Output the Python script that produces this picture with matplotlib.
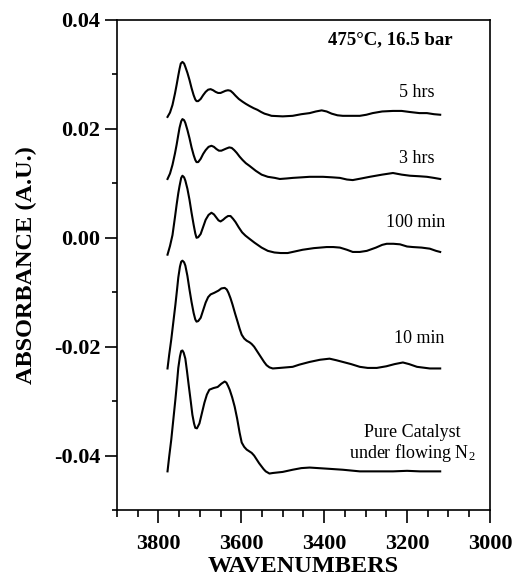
import matplotlib
matplotlib.use('Agg')
from matplotlib import pyplot as plt
from matplotlib.ticker import MultipleLocator

plt.rcParams['font.family'] = ['Liberation Serif', 'DejaVu Serif']
plt.rcParams['mathtext.fontset'] = 'stix'

# 波数 / 吸光度
wn_5h = [3778, 3772, 3766, 3760, 3756, 3752, 3749, 3746, 3742, 3738, 3735, 3730, 3725, 3720, 3715,
         3711, 3708, 3704, 3698, 3692, 3686, 3680, 3674, 3668, 3662, 3656, 3650, 3644, 3638, 3632,
         3626, 3620, 3614, 3606, 3597, 3589, 3580, 3570, 3561, 3552, 3544, 3535, 3527, 3500, 3476,
         3455, 3435, 3420, 3406, 3394, 3382, 3368, 3355, 3335, 3314, 3298, 3283, 3260, 3234, 3213,
         3193, 3170, 3152, 3135, 3120]
ab_5h = [0.0222, 0.0230, 0.0244, 0.0265, 0.0281, 0.0298, 0.0310, 0.0320, 0.0323, 0.0320, 0.0314,
         0.0303, 0.0290, 0.0275, 0.0262, 0.0254, 0.0251, 0.0251, 0.0255, 0.0262, 0.0268, 0.0272,
         0.0273, 0.0271, 0.0268, 0.0266, 0.0266, 0.0268, 0.0270, 0.0271, 0.0270, 0.0266, 0.0261,
         0.0255, 0.0250, 0.0246, 0.0242, 0.0238, 0.0235, 0.0231, 0.0228, 0.0226, 0.0224, 0.0223,
         0.0224, 0.0227, 0.0229, 0.0232, 0.0234, 0.0232, 0.0228, 0.0225, 0.0224, 0.0224, 0.0224,
         0.0226, 0.0229, 0.0232, 0.0233, 0.0233, 0.0231, 0.0229, 0.0229, 0.0227, 0.0226]

wn_3h = [3778, 3772, 3766, 3760, 3756, 3752, 3749, 3745, 3742, 3738, 3735, 3730, 3725, 3720, 3715,
         3711, 3708, 3704, 3698, 3692, 3686, 3679, 3672, 3666, 3660, 3654, 3648, 3642, 3636, 3629,
         3623, 3617, 3611, 3604, 3597, 3589, 3580, 3565, 3551, 3536, 3519, 3507, 3490, 3476, 3455,
         3435, 3403, 3380, 3362, 3345, 3331, 3310, 3290, 3260, 3234, 3213, 3193, 3170, 3152, 3135,
         3120]
ab_3h = [0.0108, 0.0118, 0.0134, 0.0155, 0.0171, 0.0189, 0.0202, 0.0214, 0.0218, 0.0216, 0.0211,
         0.0198, 0.0183, 0.0166, 0.0152, 0.0143, 0.0139, 0.0139, 0.0145, 0.0154, 0.0161, 0.0167,
         0.0169, 0.0167, 0.0163, 0.0160, 0.0160, 0.0162, 0.0164, 0.0166, 0.0165, 0.0161, 0.0156,
         0.0149, 0.0143, 0.0137, 0.0132, 0.0123, 0.0116, 0.0112, 0.0110, 0.0108, 0.0109, 0.0110,
         0.0111, 0.0112, 0.0112, 0.0111, 0.0110, 0.0107, 0.0106, 0.0109, 0.0112, 0.0116, 0.0119,
         0.0116, 0.0114, 0.0113, 0.0112, 0.0110, 0.0108]

wn_100m = [3778, 3772, 3766, 3760, 3756, 3752, 3749, 3745, 3742, 3738, 3735, 3730, 3725, 3720, 3715,
           3711, 3708, 3704, 3698, 3692, 3686, 3679, 3672, 3666, 3660, 3655, 3650, 3644, 3638, 3632,
           3626, 3620, 3614, 3606, 3598, 3590, 3580, 3568, 3551, 3536, 3520, 3505, 3488, 3470, 3452,
           3425, 3394, 3378, 3362, 3345, 3331, 3314, 3297, 3275, 3260, 3249, 3233, 3217, 3200, 3186,
           3165, 3145, 3130, 3120]
ab_100m = [-0.0031, -0.0015, 0.0005, 0.0038, 0.0061, 0.0082, 0.0095, 0.0110, 0.0114, 0.0111, 0.0105,
           0.0090, 0.0070, 0.0046, 0.0024, 0.0008, 0.0000, 0.0001, 0.0007, 0.0020, 0.0033, 0.0042,
           0.0046, 0.0043, 0.0037, 0.0032, 0.0030, 0.0033, 0.0037, 0.0040, 0.0040, 0.0035, 0.0029,
           0.0019, 0.0010, 0.0004, -0.0002, -0.0009, -0.0018, -0.0024, -0.0027, -0.0028, -0.0028,
           -0.0025, -0.0022, -0.0019, -0.0017, -0.0017, -0.0018, -0.0022, -0.0026, -0.0026, -0.0024,
           -0.0018, -0.0013, -0.0011, -0.0011, -0.0012, -0.0016, -0.0017, -0.0018, -0.0020, -0.0024,
           -0.0026]

wn_10m = [3778, 3774, 3769, 3764, 3759, 3755, 3752, 3748, 3745, 3742, 3738, 3735, 3730, 3725, 3720,
          3715, 3711, 3708, 3704, 3698, 3692, 3686, 3680, 3674, 3665, 3655, 3648, 3640, 3635, 3631,
          3626, 3621, 3615, 3609, 3604, 3599, 3593, 3587, 3580, 3575, 3569, 3563, 3557, 3551, 3545,
          3539, 3532, 3524, 3507, 3476, 3460, 3435, 3410, 3387, 3370, 3355, 3335, 3314, 3295, 3273,
          3250, 3230, 3210, 3195, 3176, 3145, 3120]
ab_10m = [-0.0240, -0.0215, -0.0187, -0.0155, -0.0123, -0.0095, -0.0073, -0.0053, -0.0044, -0.0042,
          -0.0045, -0.0051, -0.0070, -0.0095, -0.0118, -0.0138, -0.0150, -0.0154, -0.0153, -0.0147,
          -0.0133, -0.0119, -0.0109, -0.0104, -0.0101, -0.0097, -0.0093, -0.0092, -0.0095, -0.0101,
          -0.0111, -0.0123, -0.0139, -0.0154, -0.0167, -0.0178, -0.0185, -0.0189, -0.0192, -0.0195,
          -0.0200, -0.0207, -0.0214, -0.0221, -0.0228, -0.0234, -0.0238, -0.0240, -0.0239, -0.0237,
          -0.0233, -0.0228, -0.0224, -0.0222, -0.0225, -0.0228, -0.0232, -0.0237, -0.0239, -0.0239,
          -0.0236, -0.0232, -0.0229, -0.0232, -0.0237, -0.0240, -0.0240]

wn_pure = [3778, 3774, 3769, 3764, 3759, 3755, 3752, 3748, 3745, 3742, 3739, 3735, 3731, 3727, 3722,
           3718, 3714, 3711, 3707, 3701, 3695, 3689, 3683, 3677, 3667, 3657, 3648, 3640, 3636, 3632,
           3628, 3622, 3616, 3610, 3604, 3599, 3593, 3587, 3581, 3575, 3569, 3563, 3557, 3551, 3546,
           3541, 3532, 3524, 3500, 3476, 3455, 3435, 3394, 3355, 3314, 3234, 3200, 3169, 3120]
ab_pure = [-0.0429, -0.0402, -0.0371, -0.0334, -0.0297, -0.0265, -0.0239, -0.0218, -0.0208, -0.0207,
           -0.0211, -0.0222, -0.0245, -0.0270, -0.0300, -0.0325, -0.0341, -0.0349, -0.0350, -0.0341,
           -0.0322, -0.0303, -0.0288, -0.0279, -0.0276, -0.0274, -0.0268, -0.0264, -0.0266, -0.0272,
           -0.0279, -0.0293, -0.0310, -0.0332, -0.0358, -0.0376, -0.0384, -0.0389, -0.0392, -0.0395,
           -0.0400, -0.0407, -0.0414, -0.0420, -0.0425, -0.0429, -0.0433, -0.0432, -0.0430, -0.0426,
           -0.0423, -0.0422, -0.0424, -0.0426, -0.0429, -0.0429, -0.0428, -0.0429, -0.0429]

curves = [(wn_5h, ab_5h), (wn_3h, ab_3h), (wn_100m, ab_100m), (wn_10m, ab_10m), (wn_pure, ab_pure)]

fig = plt.figure(figsize=(5.13, 5.78), dpi=100)
ax = fig.add_axes([0.228, 0.1176, 0.727, 0.8478])

for wn, ab in curves:
    ax.plot(wn, ab, color='black', lw=1.5, solid_joinstyle='round')

ax.set_xlim(3900, 3000)
ax.set_ylim(-0.05, 0.04)
ax.xaxis.set_major_locator(MultipleLocator(200))
ax.xaxis.set_minor_locator(MultipleLocator(50))
ax.yaxis.set_major_locator(MultipleLocator(0.02))
ax.yaxis.set_minor_locator(MultipleLocator(0.01))
ax.yaxis.set_major_formatter(plt.FuncFormatter(lambda v, p: '%.2f' % v))

ax.tick_params(axis='x', which='major', direction='out', length=9.4, width=1.2, pad=8,
               labelsize=16)
ax.tick_params(axis='x', which='minor', direction='out', length=5, width=1.2)
ax.tick_params(axis='y', which='major', direction='out', length=8.6, width=1.2, pad=3.5,
               labelsize=16)
ax.tick_params(axis='y', which='minor', direction='out', length=3.6, width=1.2)
for lab in ax.get_xticklabels() + ax.get_yticklabels():
    lab.set_fontweight('bold')
for sp in ax.spines.values():
    sp.set_linewidth(1.2)

ax.set_xlabel('WAVENUMBERS', fontsize=17.5, fontweight='bold', labelpad=1)
ax.set_ylabel('ABSORBANCE (A.U.)', fontsize=17.5, fontweight='bold', labelpad=12)

ax.text(3090, 0.0363, '475°C, 16.5 bar', fontsize=13.5, fontweight='bold', ha='right', va='center')
ax.text(3133, 0.0266, '5 hrs', fontsize=13, ha='right', va='center')
ax.text(3133, 0.0145, '3 hrs', fontsize=13, ha='right', va='center')
ax.text(3108, 0.0028, '100 min', fontsize=13, ha='right', va='center')
ax.text(3110, -0.0185, '10 min', fontsize=13, ha='right', va='center')
ax.text(3188, -0.0358, 'Pure Catalyst', fontsize=13, ha='center', va='center')
ax.text(3188, -0.0395, r'under flowing $\mathregular{N_2}$', fontsize=13, ha='center', va='center')

plt.savefig('out.png', dpi=100)
